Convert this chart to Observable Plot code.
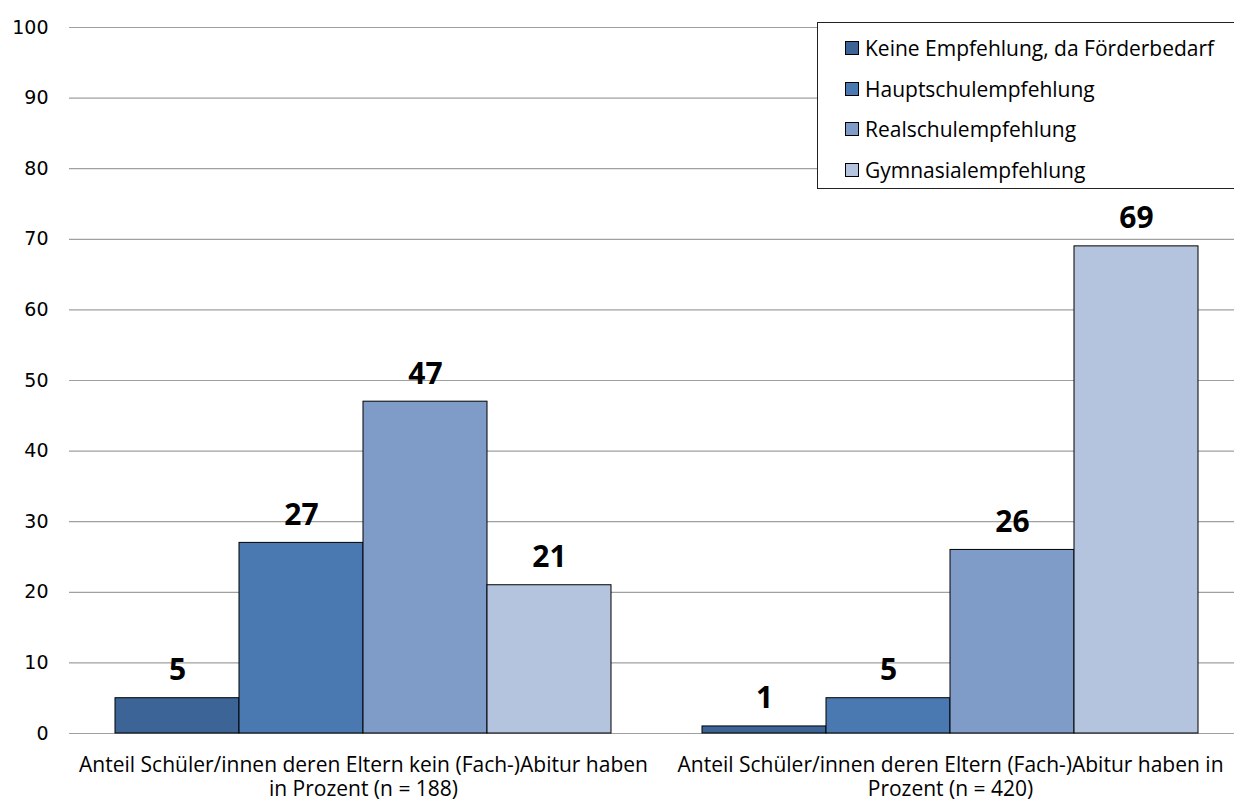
<!DOCTYPE html>
<html>
<head>
<meta charset="utf-8">
<script src="https://cdn.jsdelivr.net/npm/d3@7"></script>
<script src="https://cdn.jsdelivr.net/npm/@observablehq/plot@0.6"></script>
<style>
  html, body { margin: 0; padding: 0; background: #fff; }
  #wrap { position: relative; width: 1234px; height: 802px; overflow: hidden; background: #fff; }
  #wrap svg { position: absolute; left: 0; top: 0; }
  #legend { position: absolute; left: 817px; top: 22px; width: 430px; height: 167px;
    border: 1px solid #222; background: #fff; font-family: "Open Sans", Lato, sans-serif;
    font-size: 21px; color: #000; box-sizing: border-box; }
  .item { position: absolute; left: 27px; display: flex; align-items: center; height: 28px; line-height: 28px; }
  .sw { width: 14px; height: 14px; border: 1px solid #000; margin-right: 6px; box-sizing: border-box; }
</style>
</head>
<body>
<div id="wrap"><div id="legend"></div></div>
<script>
const groups = [
  "Anteil Schüler/innen deren Eltern kein (Fach-)Abitur haben\nin Prozent (n = 188)",
  "Anteil Schüler/innen deren Eltern (Fach-)Abitur haben in\nProzent (n = 420)"
];
const categories = [
  "Keine Empfehlung, da Förderbedarf",
  "Hauptschulempfehlung",
  "Realschulempfehlung",
  "Gymnasialempfehlung"
];
const valuesKeinAbitur = [5, 27, 47, 21];
const valuesAbitur = [1, 5, 26, 69];
const colors = ["#3d6496", "#4a79b1", "#7f9cc8", "#b5c4de"];
const yTicks = [0, 10, 20, 30, 40, 50, 60, 70, 80, 90, 100];

const data = [];
[valuesKeinAbitur, valuesAbitur].forEach((vals, gi) => {
  vals.forEach((v, ci) => data.push({group: groups[gi], category: categories[ci], value: v}));
});

const common = {
  width: 1234,
  height: 802,
  marginLeft: 69,
  marginRight: -10,
  marginTop: 27,
  marginBottom: 69,
  style: {fontFamily: "'Open Sans', Lato, sans-serif", background: "transparent", overflow: "visible"},
  y: {domain: [0, 100], label: null}
};

// Layer 1: gridlines + y axis across the full plotting width
const grid = Plot.plot({
  ...common,
  marks: [
    Plot.ruleY(yTicks, {stroke: "#a0a0a0", strokeWidth: 1.2}),
    Plot.axisY(yTicks, {tickSize: 0, tickPadding: 21, fontSize: 19, fontFamily: "DejaVu Sans, Verdana, sans-serif", fill: "#000", label: null})
  ]
});

// Layer 2: grouped bars, value labels, group labels
const bars = Plot.plot({
  ...common,
  fx: {domain: groups, paddingInner: 0.155, paddingOuter: 0.0775, label: null},
  x: {domain: categories, padding: 0, axis: null},
  color: {domain: categories, range: colors},
  marks: [
    Plot.axisY({ticks: [], label: null, tickSize: 0}),
    Plot.axisFx({anchor: "bottom", tickSize: 0, tickPadding: 21, fontSize: 21, lineHeight: 1.15, fill: "#000", label: null}),
    Plot.barY(data, {fx: "group", x: "category", y: "value", fill: "category", stroke: "#000", strokeWidth: 1}),
    Plot.text(data, {fx: "group", x: "category", y: "value", text: d => String(d.value),
      lineAnchor: "bottom", dy: -18, fontSize: 30, fontWeight: "bold", fill: "#000"})
  ]
});

const wrap = document.getElementById("wrap");
wrap.prepend(bars);
wrap.prepend(grid);

const legend = document.getElementById("legend");
categories.forEach((c, i) => {
  const it = document.createElement("div");
  it.className = "item";
  it.style.top = (11 + i * 40.7) + "px";
  const sw = document.createElement("div");
  sw.className = "sw";
  sw.style.background = colors[i];
  const t = document.createElement("span");
  t.textContent = c;
  it.appendChild(sw); it.appendChild(t);
  legend.appendChild(it);
});
</script>
</body>
</html>
